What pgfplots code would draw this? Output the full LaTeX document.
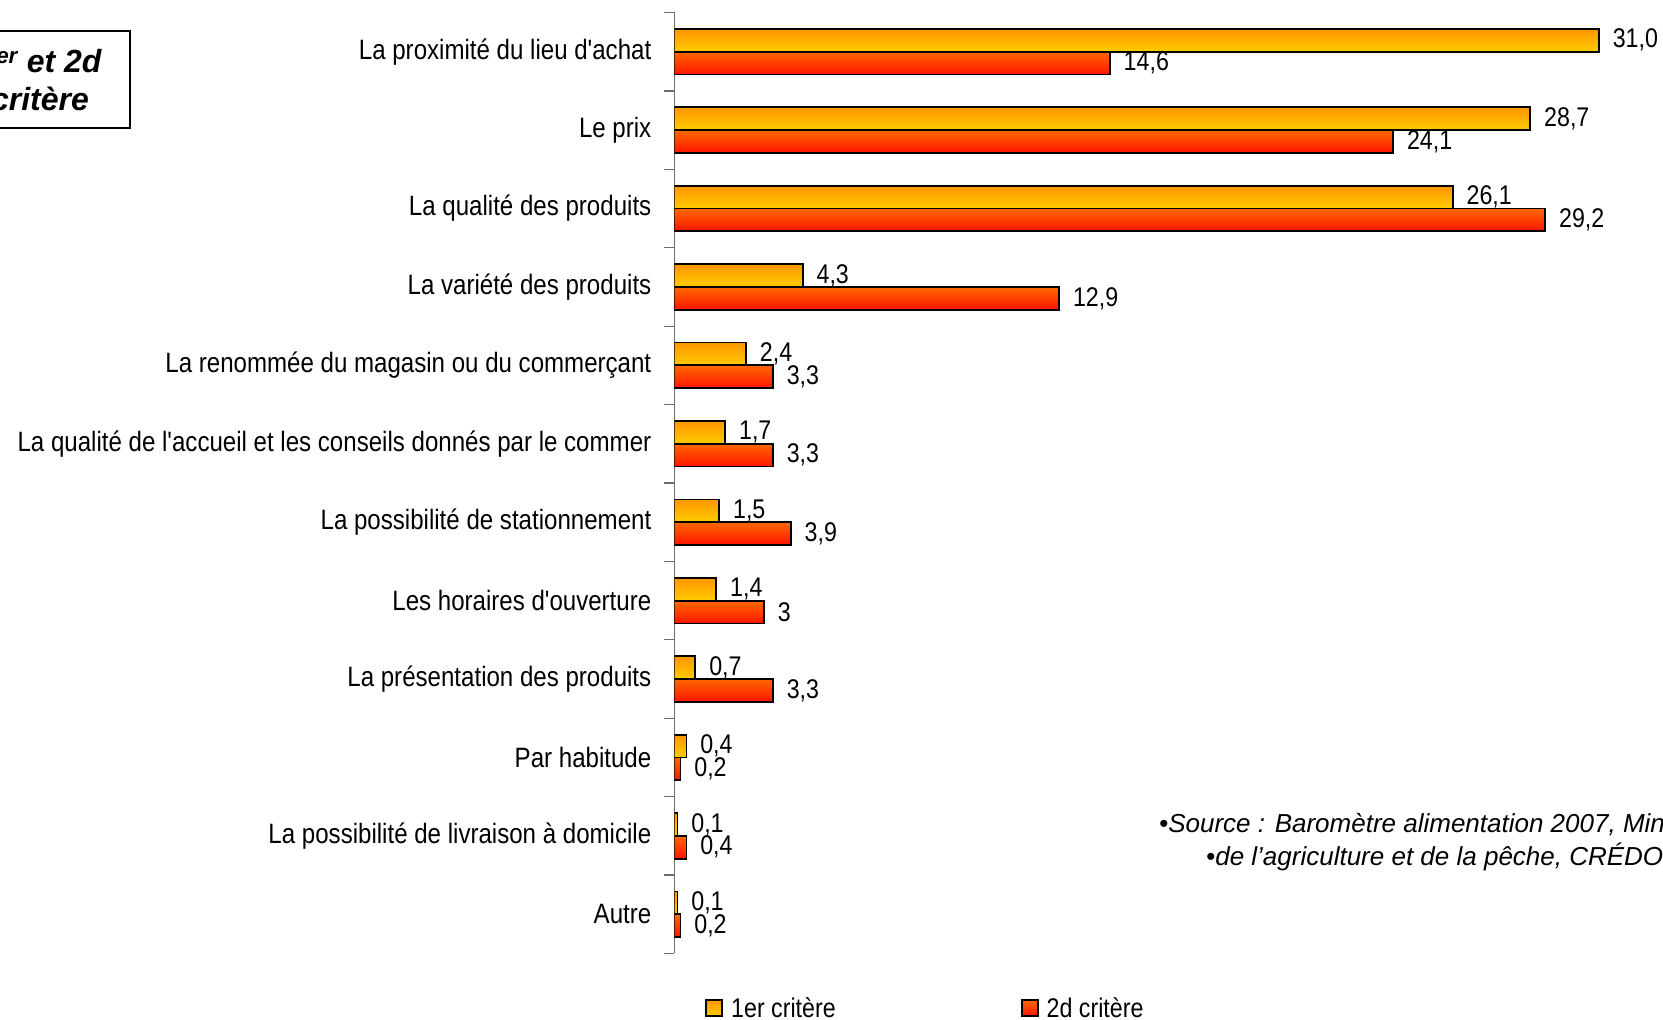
\documentclass[border=0pt]{standalone}
\usepackage{pgfplots}
\pgfplotsset{compat=1.18}
\usepackage{fontspec}
\setmainfont{Liberation Sans}
\newfontfamily\narrow{Liberation Sans}[FakeStretch=0.86]
\definecolor{yTop}{RGB}{255,150,0}
\definecolor{yBot}{RGB}{255,204,0}
\definecolor{rTop}{RGB}{255,104,0}
\definecolor{rBot}{RGB}{255,20,0}
\definecolor{axgray}{RGB}{110,110,110}
\pgfplotsset{
  yb/.style={bar shift=11.4pt, draw=black, line width=1.8pt, top color=yTop, bottom color=yBot},
  rb/.style={bar shift=-11.4pt, draw=black, line width=1.8pt, top color=rTop, bottom color=rBot},
}
\begin{document}
\begin{tikzpicture}[x=1pt,y=1pt]
\useasboundingbox (0,0) rectangle (1663,1020);
\clip (0,0) rectangle (1663,1020);
\begin{axis}[
  at={(674.5pt,66.5pt)}, anchor=south west,
  scale only axis, width=984pt, height=941pt,
  xmin=0, xmax=33, ymin=-0.5, ymax=11.5,
  axis x line=none, axis y line*=left,
  axis line style={draw=axgray, line width=1.2pt},
  xbar, bar width=22.8pt,
  ytick={0,...,11},
  yticklabels={Autre, La possibilité de livraison à domicile, Par habitude, La présentation des produits, Les horaires d'ouverture, La possibilité de stationnement, La qualité de l'accueil et les conseils donnés par le commer, La renommée du magasin ou du commerçant, La variété des produits, La qualité des produits, Le prix, La proximité du lieu d'achat},
  major tick length=0pt,
  yticklabel style={font=\narrow\fontsize{28}{32}\selectfont, anchor=east, inner sep=0pt, xshift=-23pt},
  extra y ticks={-0.5,0.5,...,11.5},
  extra y tick labels={},
  extra y tick style={major tick length=10pt, tick align=outside, tick style={draw=axgray, line width=1.2pt}},
  point meta=explicit symbolic,
  nodes near coords,
  every node near coord/.append style={font=\narrow\fontsize{27}{30}\selectfont, anchor=west, inner sep=0pt, xshift=13pt, text=black},
  legend columns=2,
  legend style={at={(axis description cs:0.031,-0.058)}, anchor=west, draw=none, fill=none, inner sep=0pt,
    font=\narrow\fontsize{27}{30}\selectfont,
    nodes={inner sep=0pt},
    /tikz/every odd column/.append style={column sep=8pt},
    /tikz/every even column/.append style={column sep=185pt}},
  legend image code/.code={\draw[#1, line width=2pt] (0pt,-8pt) rectangle (16pt,8pt);},
  table/row sep=\\,
]
\addlegendimage{yb}\addlegendentry{1er critère}
\addlegendimage{rb}\addlegendentry{2d critère}
% 1er critère
\addplot[yb, forget plot] table[x=v,y=c,meta=l] {v c l\\ 31.0 11 31,0\\};
\addplot[yb, forget plot] table[x=v,y=c,meta=l] {v c l\\ 28.7 10 28,7\\};
\addplot[yb, forget plot] table[x=v,y=c,meta=l] {v c l\\ 26.1 9 26,1\\};
\addplot[yb, forget plot] table[x=v,y=c,meta=l] {v c l\\ 4.3 8 4,3\\};
\addplot[yb, forget plot] table[x=v,y=c,meta=l] {v c l\\ 2.4 7 2,4\\};
\addplot[yb, forget plot] table[x=v,y=c,meta=l] {v c l\\ 1.7 6 1,7\\};
\addplot[yb, forget plot] table[x=v,y=c,meta=l] {v c l\\ 1.5 5 1,5\\};
\addplot[yb, forget plot] table[x=v,y=c,meta=l] {v c l\\ 1.4 4 1,4\\};
\addplot[yb, forget plot] table[x=v,y=c,meta=l] {v c l\\ 0.7 3 0,7\\};
\addplot[yb, forget plot] table[x=v,y=c,meta=l] {v c l\\ 0.4 2 0,4\\};
\addplot[yb, forget plot] table[x=v,y=c,meta=l] {v c l\\ 0.1 1 0,1\\};
\addplot[yb, forget plot] table[x=v,y=c,meta=l] {v c l\\ 0.1 0 0,1\\};
% 2d critère
\addplot[rb, forget plot] table[x=v,y=c,meta=l] {v c l\\ 14.6 11 14,6\\};
\addplot[rb, forget plot] table[x=v,y=c,meta=l] {v c l\\ 24.1 10 24,1\\};
\addplot[rb, forget plot] table[x=v,y=c,meta=l] {v c l\\ 29.2 9 29,2\\};
\addplot[rb, forget plot] table[x=v,y=c,meta=l] {v c l\\ 12.9 8 12,9\\};
\addplot[rb, forget plot] table[x=v,y=c,meta=l] {v c l\\ 3.3 7 3,3\\};
\addplot[rb, forget plot] table[x=v,y=c,meta=l] {v c l\\ 3.3 6 3,3\\};
\addplot[rb, forget plot] table[x=v,y=c,meta=l] {v c l\\ 3.9 5 3,9\\};
\addplot[rb, forget plot] table[x=v,y=c,meta=l] {v c l\\ 3 4 3\\};
\addplot[rb, forget plot] table[x=v,y=c,meta=l] {v c l\\ 3.3 3 3,3\\};
\addplot[rb, forget plot] table[x=v,y=c,meta=l] {v c l\\ 0.2 2 0,2\\};
\addplot[rb, forget plot] table[x=v,y=c,meta=l] {v c l\\ 0.4 1 0,4\\};
\addplot[rb, forget plot] table[x=v,y=c,meta=l] {v c l\\ 0.2 0 0,2\\};
\end{axis}
\draw[line width=2pt] (-20,892) rectangle (130,989);
\node[font=\fontsize{32}{38}\selectfont\bfseries\itshape, align=center, inner sep=0pt] at (40,940) {1\textsuperscript{er} et 2d\\[0pt]critère};
\node[font=\fontsize{26}{30}\selectfont\itshape, anchor=west, inner sep=0pt] at (1159,195) {•Source : Baromètre alimentation 2007, Ministère};
\node[font=\fontsize{26}{30}\selectfont\itshape, anchor=west, inner sep=0pt] at (1206,163) {•de l’agriculture et de la pêche, CRÉDOC};
\end{tikzpicture}
\end{document}
